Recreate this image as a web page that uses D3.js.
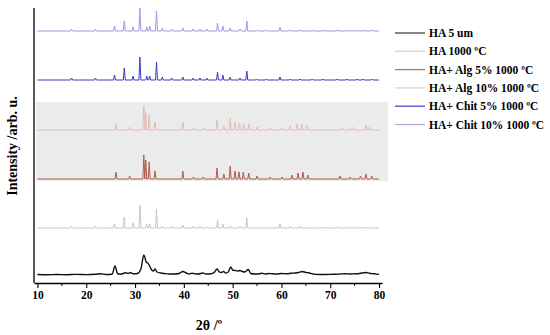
<!DOCTYPE html>
<html>
<head>
<meta charset="utf-8">
<script src="https://cdn.jsdelivr.net/npm/d3@7"></script>
<style>
	body { margin: 0; background: #fff; }
	svg { display: block; }
</style>
</head>
<body>
<div id="container"></div>
<script>

// Series names, in legend order
var seriesNames = ["HA 5 um", "HA 1000 ºC", "HA+ Alg 5% 1000 ºC", "HA+ Alg 10% 1000 ºC", "HA+ Chit 5% 1000 ºC", "HA+ Chit 10% 1000 ºC"];

// Tick labels of the 2theta axis
var xTicks = [10, 20, 30, 40, 50, 60, 70, 80];
var xMinorTicks = [15, 25, 35, 45, 55, 65, 75];

// HA 5 um: broad pattern, [2theta, intensity]
var ha5um = [[10,0.5],[12,0.3],[14,0.5],[16,0.3],[18,0.6],[20,0.4],[22,0.8],[23,1.2],[24,0.5],[25.3,0.8],
	[25.9,9],[26.4,1.5],[27,0.8],[28.1,2.2],[28.6,1.5],[29,2.5],[29.6,1.2],[30.5,1.5],[31.2,6],[31.8,20],
	[32.3,13],[32.6,12],[32.9,10],[33.4,5],[33.8,4],[34.1,6],[34.5,3],[35.3,2],[36,1.5],[37,1],[38,1],
	[39,1.5],[39.8,3.5],[40.5,2],[41,1],[41.7,1.8],[42.5,1],[43,1],[43.9,2],[44.5,1],[45.5,1.2],[46.2,2.5],
	[46.8,6],[47.3,3],[47.7,2.5],[48.1,3.5],[48.6,2],[49.1,3],[49.6,8],[50,5],[50.5,4.5],[51.1,4],[51.5,4.5],
	[52,3.5],[52.5,3],[53.2,5.5],[53.7,1.5],[54.5,1],[55.5,1.2],[56,1.8],[56.7,1],[57.4,1.5],[58.1,1.2],
	[59,1],[60,1.5],[61,1.2],[62,1.8],[62.8,2],[63.5,2.5],[64.2,3.5],[65,2.5],[65.6,2.2],[66.3,1.2],[67,0.6],
	[68,0.5],[69,0.5],[70,0.6],[71,0.8],[72,1],[73,1.2],[74,1],[75,1.2],[76,1.5],[77.3,2.5],[78,1.8],[79,1.2],[80,0.6]];

// Sharp patterns: peak lists, [2theta, intensity]
var ha1000 = [[17.0,2],[21.9,2],[25.8,4],[27.8,11],[29.6,5],[31.0,23],[32.4,4],[33.0,4],[34.4,19],[35.6,2],
	[37.5,2],[39.8,3],[41.9,2],[43.3,2],[44.7,1],[46.9,8],[48.0,4],[49.5,2],[51.5,2],[52.9,10],[54.9,1],
	[56.9,1],[59.7,4],[61.8,2],[63.8,2],[66.3,1],[68.5,1],[71.4,1],[73.4,1],[75.5,1],[76.7,1],[78.6,1]];

var alg5 = [[26.1,7],[28.9,3],[31.8,24],[32.2,19],[32.9,17],[34.1,8],[39.8,8],[42.0,2],[44.0,2],[46.8,11],
	[48.2,5],[49.5,13],[50.5,8],[51.3,7],[52.2,7],[53.3,6],[55.0,3],[57.7,2],[60.1,2],[62.2,4],[63.4,6],
	[64.4,7],[65.4,4],[72.0,3],[74.1,2],[76.2,3],[77.3,5],[78.5,3]];

var alg10 = [[26.1,6],[28.9,3],[31.8,24],[32.2,18],[32.9,16],[34.1,8],[39.8,8],[42.0,2],[44.0,2],[46.8,10],
	[48.2,4],[49.5,12],[50.5,8],[51.4,7],[52.3,6],[53.3,6],[55.0,3],[57.7,2],[60.1,2],[61.8,4],[63.2,6],
	[64.2,6],[65.2,5],[72.4,2],[74.5,3],[77.3,5],[78.1,3]];

var chit5 = [[17.0,2],[21.9,2],[25.8,5],[27.8,12],[29.6,4],[31.0,23],[32.4,4],[33.0,4],[34.4,18],[35.6,3],
	[37.5,2],[39.8,3],[41.9,2],[43.3,2],[44.7,2],[46.9,8],[48.0,5],[49.5,3],[51.5,2],[52.9,9],[54.9,1],
	[56.9,1],[59.7,3],[61.8,1],[63.8,1],[66.3,1],[68.5,1],[71.4,1],[73.4,1],[75.5,1],[76.7,1],[78.6,1]];

var chit10 = [[17.0,2],[21.9,2],[25.8,5],[27.8,10],[29.6,4],[31.0,23],[32.4,4],[33.0,5],[34.4,20],[35.6,3],
	[37.5,2],[39.8,3],[41.9,2],[43.3,2],[44.7,2],[46.9,8],[48.0,5],[49.5,3],[51.5,2],[52.9,10],[54.9,1],
	[56.9,1],[59.7,4],[61.8,1],[63.8,1],[66.3,1],[68.5,1],[71.4,1],[73.4,1],[75.5,1],[76.7,1],[78.6,1]];

// Layout
var width = 550,
	height = 335;

var colors = ["#111111", "#c6c6c6", "#ad5e48", "#e2bdb4", "#3a3ac4", "#9c9ce6"];
var legendColors = ["#444444", "#d4d4d4", "#b57a5c", "#e6cfc6", "#4a4ac6", "#aaaae6"];

// vertical offset of each trace, in intensity units
var offsets = [8, 55, 104, 153, 203, 252];

var svg = d3.select("#container").append("svg")
	.attr("width", width)
	.attr("height", height);

var xScale = d3.scaleLinear()
	.domain([9.3, 80.6])
	.range([34, 382]);

var yScale = d3.scaleLinear()
	.domain([0, 275])
	.range([283, 8]);

// Grey band behind the alginate traces
svg.append("rect")
	.attr("x", xScale(9.7))
	.attr("y", yScale(181))
	.attr("width", xScale(81.8) - xScale(9.7))
	.attr("height", yScale(102) - yScale(181))
	.attr("fill", "#ebebeb");

// Turn a peak list into a spiky trace
function spikes(peaks) {
	var pts = [[10, 0]];
	peaks.forEach(function(p) {
		pts.push([p[0] - 0.2, 0], [p[0], p[1]], [p[0] + 0.2, 0]);
	});
	pts.push([80, 0]);
	return pts;
}

var traces = [ha5um, spikes(ha1000), spikes(alg5), spikes(alg10), spikes(chit5), spikes(chit10)];

traces.forEach(function(pts, i) {
	var line = d3.line()
		.x(function(d) { return xScale(d[0]); })
		.y(function(d) { return yScale(d[1] + offsets[i]); });
	if (i == 0) line.curve(d3.curveMonotoneX);

	svg.append("path")
		.datum(pts)
		.attr("fill", "none")
		.attr("stroke", colors[i])
		.attr("stroke-width", i == 0 ? 1.4 : 1)
		.attr("stroke-linejoin", "round")
		.attr("d", line);
});

// Axes
var xAxis = d3.axisBottom(xScale)
	.tickValues(xTicks)
	.tickSize(5)
	.tickSizeOuter(0)
	.tickPadding(3);

var gx = svg.append("g")
	.attr("transform", "translate(0,283)")
	.call(xAxis);

gx.selectAll(".minor")
	.data(xMinorTicks)
	.enter().append("line")
	.attr("x1", function(d) { return xScale(d); })
	.attr("x2", function(d) { return xScale(d); })
	.attr("y1", 0)
	.attr("y2", 3)
	.attr("stroke", "#000");

gx.select(".domain").attr("stroke-width", 1.3);
gx.selectAll(".tick line").attr("stroke-width", 1.1);
gx.selectAll("text")
	.style("font-family", "'Liberation Serif', serif")
	.style("font-weight", "bold")
	.style("font-size", "11.5px")
	.attr("fill", "#000");

svg.append("line")
	.attr("x1", 34).attr("x2", 34)
	.attr("y1", yScale(275)).attr("y2", yScale(0))
	.attr("stroke", "#000")
	.attr("stroke-width", 1.3);

// Axis titles
svg.append("text")
	.attr("transform", "translate(17,146) rotate(-90)")
	.style("text-anchor", "middle")
	.style("font-family", "'Liberation Serif', serif")
	.style("font-weight", "bold")
	.style("font-size", "14px")
	.text("Intensity /arb. u.");

svg.append("text")
	.attr("x", 209)
	.attr("y", 330)
	.style("text-anchor", "middle")
	.style("font-family", "'Liberation Serif', serif")
	.style("font-weight", "bold")
	.style("font-size", "14px")
	.text("2θ /º");

// Legend
var legend = svg.append("g")
	.attr("transform", "translate(395,33)");

var rows = legend.selectAll("g")
	.data(seriesNames)
	.enter().append("g")
	.attr("transform", function(d, i) { return "translate(0," + (i * 18.3) + ")"; });

rows.append("line")
	.attr("x1", 0).attr("x2", 30)
	.attr("stroke", function(d, i) { return legendColors[i]; })
	.attr("stroke-width", 1.3);

rows.append("text")
	.attr("x", 34)
	.attr("y", 4)
	.style("font-family", "'Liberation Serif', serif")
	.style("font-weight", "bold")
	.style("font-size", "11.5px")
	.text(function(d) { return d; });

</script>
</body>
</html>
